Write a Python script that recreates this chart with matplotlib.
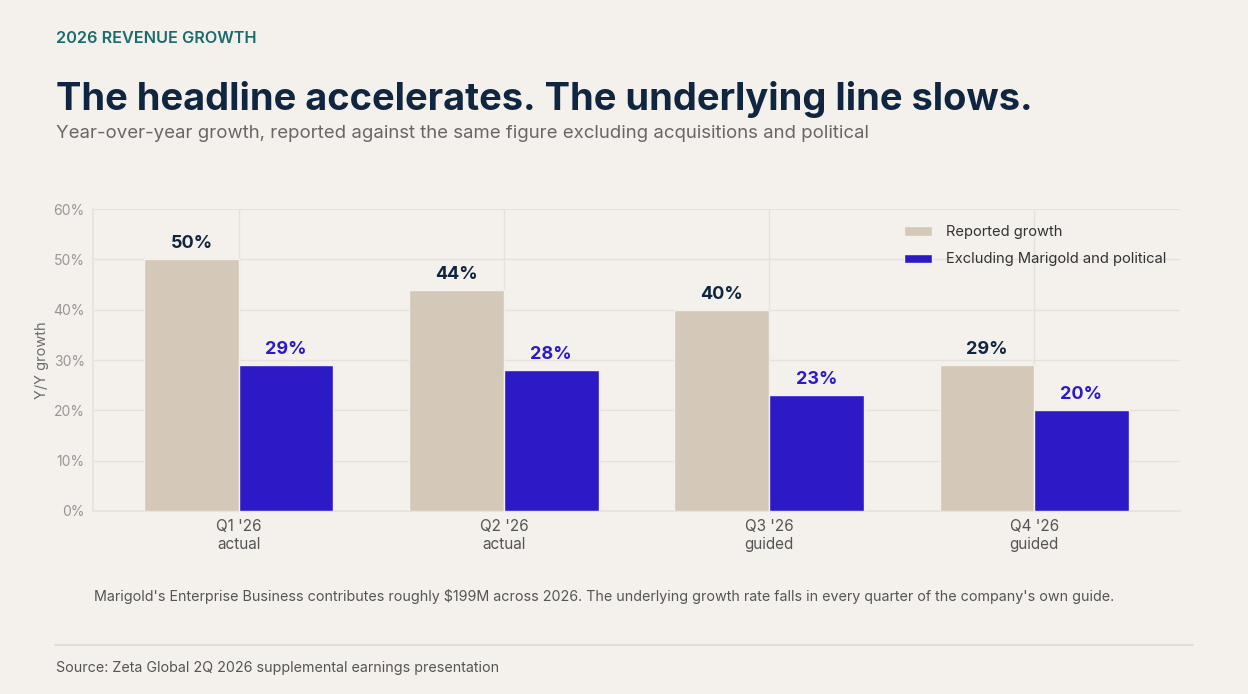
import matplotlib.pyplot as plt
import numpy as np
from matplotlib.lines import Line2D

plt.rcParams['font.family'] = ['Inter', 'DejaVu Sans']

quarters = ["Q1 '26\nactual", "Q2 '26\nactual", "Q3 '26\nguided", "Q4 '26\nguided"]
reported = [50, 44, 40, 29]
excluding = [29, 28, 23, 20]
yticks = [0, 10, 20, 30, 40, 50, 60]

bg = '#f4f1ec'
sand = '#d4c8b8'
blue = '#2b1ac6'
navy = '#0f2540'
grey = '#6b6b6b'
grid = '#e5e1db'

fig = plt.figure(figsize=(12.48, 6.94), dpi=100, facecolor=bg)
ax = fig.add_axes([0.0745, 0.2637, 0.871, 0.4351], facecolor=bg)

x = np.arange(len(quarters))
w = 0.357
ax.bar(x - w / 2, reported, w, color=sand, edgecolor=bg, linewidth=1, label='Reported growth', zorder=3)
ax.bar(x + w / 2, excluding, w, color=blue, edgecolor=bg, linewidth=1, label='Excluding Marigold and political', zorder=3)

for i in range(len(x)):
    ax.text(x[i] - w / 2, reported[i] + 1.4, f'{reported[i]}%', ha='center', va='bottom',
            fontsize=13, fontweight='bold', color=navy, zorder=4)
    ax.text(x[i] + w / 2, excluding[i] + 1.4, f'{excluding[i]}%', ha='center', va='bottom',
            fontsize=13, fontweight='bold', color=blue, zorder=4)

ax.set_xlim(-0.55, 3.55)
ax.set_ylim(0, 60)
ax.set_yticks(yticks)
ax.set_yticklabels([f'{t}%' for t in yticks])
ax.set_xticks(x)
ax.set_xticklabels(quarters)
ax.tick_params(axis='y', length=0, labelsize=10, labelcolor='#9a9595', pad=6)
ax.tick_params(axis='x', length=0, labelsize=11, labelcolor='#555555', pad=6)
ax.grid(True, color=grid, linewidth=1, zorder=0)
for s in ['top', 'right']:
    ax.spines[s].set_visible(False)
for s in ['left', 'bottom']:
    ax.spines[s].set_color(grid)
    ax.spines[s].set_linewidth(1.2)
ax.set_ylabel('Y/Y growth', fontsize=10.5, color=grey, labelpad=3)

leg = ax.legend(loc='upper right', frameon=False, fontsize=10.6, handlelength=1.9, handleheight=0.6,
                handletextpad=0.95, labelspacing=0.9, borderaxespad=0.7, bbox_to_anchor=(1.002, 1.0))
for t in leg.get_texts():
    t.set_color('#333333')

fig.text(0.045, 0.945, '2026 REVENUE GROWTH', fontsize=11.7, fontweight='semibold', color='#1a6b6b', va='center')
fig.text(0.045, 0.857, 'The headline accelerates. The underlying line slows.', fontsize=27.4,
         fontweight='bold', color=navy, va='center')
fig.text(0.045, 0.808, 'Year-over-year growth, reported against the same figure excluding acquisitions and political',
         fontsize=13.4, color='#6b6666', va='center')
fig.text(0.0755, 0.14, "Marigold's Enterprise Business contributes roughly $199M across 2026. The underlying growth rate falls in every quarter of the company's own guide.",
         fontsize=10.3, color='#555555', va='center')
fig.add_artist(Line2D([0.044, 0.956], [0.071, 0.071], color='#dcd8d2', linewidth=1.2))
fig.text(0.045, 0.038, 'Source: Zeta Global 2Q 2026 supplemental earnings presentation',
         fontsize=10.3, color='#555555', va='center')

fig.savefig('out.png', dpi=100, facecolor=bg)
